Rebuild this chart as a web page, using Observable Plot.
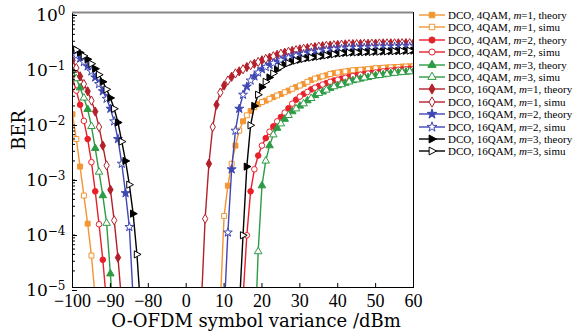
<!DOCTYPE html>
<html><head><meta charset="utf-8">
<script src="https://cdn.jsdelivr.net/npm/d3@7"></script>
<script src="https://cdn.jsdelivr.net/npm/@observablehq/plot@0.6"></script>
<style>
body{margin:0;background:#fff;}
#wrap{position:relative;width:585px;height:336px;overflow:hidden;}
#chart{position:absolute;left:0;top:0;}
.lrow{position:absolute;left:418px;height:12px;display:flex;align-items:center;font-family:"Liberation Serif",serif;font-size:11px;color:#000;white-space:nowrap;}
.lrow svg{display:block;margin-right:2px;}
</style></head><body>
<div id="wrap"><div id="chart"></div><div id="legend"></div></div>
<script>
// ---- tick values ----
const xTicks = [-100, -90, -80, 0, 10, 20, 30, 40, 50, 60];
const yTicks = [1, 1e-1, 1e-2, 1e-3, 1e-4, 1e-5];

// ---- series labels ----
const modLabels = ["DCO, 4QAM", "DCO, 4QAM", "DCO, 4QAM", "DCO, 16QAM", "DCO, 16QAM", "DCO, 16QAM"];
const mValues = [1, 2, 3, 1, 2, 3];
const kinds = ["theory", "simu"];

// ---- left branch (negative variance) x and BER ----
const xLeft4m1 = [-100, -99, -98, -97, -96, -95, -94];
const berLeft4m1 = [1.41e-2, 5.0e-3, 1.58e-3, 4.7e-4, 1.45e-4, 3.8e-5, 6.3e-6];
const xLeft4m2 = [-100, -99, -98, -97, -96, -95, -94, -93, -92, -91];
const berLeft4m2 = [6.3e-2, 3.8e-2, 2.1e-2, 1.07e-2, 5.0e-3, 1.9e-3, 5.6e-4, 1.41e-4, 3.2e-5, 5.0e-6];
const xLeft4m3 = [-100, -99, -98, -97, -96, -95, -94, -93, -92, -91, -90, -89];
const berLeft4m3 = [8.9e-2, 6.3e-2, 4.3e-2, 2.8e-2, 1.74e-2, 8.5e-3, 3.4e-3, 1.26e-3, 4.7e-4, 1.48e-4, 1.78e-5, 1.6e-6];
const xLeft16m1 = [-100, -99, -98, -97, -96, -95, -94, -93, -92, -91, -90, -89, -88, -87];
const berLeft16m1 = [0.135, 9.8e-2, 6.9e-2, 5.0e-2, 3.7e-2, 2.5e-2, 1.58e-2, 8.3e-3, 3.8e-3, 1.66e-3, 6.0e-4, 1.66e-4, 3.5e-5, 5.0e-6];
const xLeft16m2 = [-100, -99, -98, -97, -96, -95, -94, -93, -92, -91, -90, -89, -88, -87, -86, -85, -84];
const berLeft16m2 = [0.186, 0.166, 0.145, 0.126, 0.105, 8.5e-2, 6.6e-2, 5.0e-2, 3.7e-2, 2.7e-2, 1.78e-2, 1.05e-2, 5.0e-3, 1.78e-3, 5.2e-4, 1.26e-4, 6.3e-6];
const xLeft16m3 = [-100, -99, -98, -97, -96, -95, -94, -93, -92, -91, -90, -89, -88, -87, -86, -85, -84, -83, -82];
const berLeft16m3 = [0.229, 0.209, 0.186, 0.162, 0.141, 0.117, 9.5e-2, 7.4e-2, 5.5e-2, 4.0e-2, 2.8e-2, 1.78e-2, 1.0e-2, 4.5e-3, 2.0e-3, 7.4e-4, 2.2e-4, 4.0e-5, 4.0e-6];

// ---- right branch (positive variance), BER at 1 dB steps from the start value up to 60 dBm ----
const xStartRight4m1 = 9;
const berRight4m1 = [5.0e-6, 2.0e-4, 7.1e-4, 1.78e-3, 3.8e-3, 7.1e-3, 1.05e-2, 1.35e-2, 1.62e-2, 1.9e-2,
  2.15e-2, 2.35e-2, 2.5e-2, 2.7e-2, 2.9e-2, 3.1e-2, 3.3e-2, 3.55e-2, 3.8e-2, 4.1e-2,
  4.4e-2, 4.7e-2, 5.0e-2, 5.5e-2, 5.9e-2, 6.3e-2, 6.6e-2, 6.9e-2, 7.2e-2, 7.6e-2,
  7.9e-2, 8.1e-2, 8.3e-2, 8.5e-2, 8.7e-2, 8.9e-2, 9.0e-2, 9.1e-2, 9.2e-2, 9.3e-2,
  9.5e-2, 9.7e-2, 9.8e-2, 9.9e-2, 0.1, 0.101, 0.102, 0.102, 0.104, 0.104, 0.105, 0.105];
const xStartRight4m2 = 15;
const berRight4m2 = [6.3e-6, 8.9e-5, 5.6e-4, 1.41e-3, 2.5e-3, 3.8e-3, 5.2e-3, 6.8e-3, 8.5e-3, 1.05e-2,
  1.26e-2, 1.51e-2, 1.82e-2, 2.2e-2, 2.6e-2, 2.95e-2, 3.3e-2, 3.6e-2, 4.0e-2, 4.3e-2,
  4.6e-2, 4.9e-2, 5.2e-2, 5.5e-2, 5.8e-2, 6.0e-2, 6.3e-2, 6.5e-2, 6.8e-2, 7.0e-2,
  7.2e-2, 7.4e-2, 7.6e-2, 7.8e-2, 7.9e-2, 8.1e-2, 8.3e-2, 8.5e-2, 8.7e-2, 8.8e-2,
  8.9e-2, 9.1e-2, 9.2e-2, 9.3e-2, 9.4e-2, 9.5e-2];
const xStartRight4m3 = 18;
const berRight4m3 = [6.3e-7, 4.5e-5, 7.1e-4, 2.0e-3, 3.8e-3, 6.0e-3, 7.9e-3, 9.5e-3, 1.15e-2, 1.35e-2,
  1.58e-2, 1.78e-2, 2.0e-2, 2.2e-2, 2.5e-2, 2.75e-2, 3.1e-2, 3.4e-2, 3.6e-2, 3.9e-2,
  4.2e-2, 4.5e-2, 4.7e-2, 4.9e-2, 5.2e-2, 5.5e-2, 5.8e-2, 6.0e-2, 6.2e-2, 6.5e-2,
  6.6e-2, 6.9e-2, 7.1e-2, 7.2e-2, 7.4e-2, 7.6e-2, 7.8e-2, 7.9e-2, 8.1e-2, 8.2e-2,
  8.3e-2, 8.4e-2, 8.5e-2];
const xStartRight16m1 = 4;
const berRight16m1 = [5.0e-6, 1.78e-4, 1.78e-3, 8.3e-3, 2.1e-2, 3.5e-2, 4.7e-2, 5.8e-2, 6.8e-2, 7.8e-2,
  8.5e-2, 9.3e-2, 0.102, 0.11, 0.117, 0.126, 0.135, 0.143, 0.151, 0.16,
  0.17, 0.178, 0.186, 0.193, 0.2, 0.207, 0.214, 0.219, 0.224, 0.229,
  0.234, 0.24, 0.244, 0.248, 0.251, 0.254, 0.257, 0.26, 0.263, 0.265,
  0.266, 0.267, 0.268, 0.269, 0.27, 0.271, 0.272, 0.273, 0.274, 0.274,
  0.275, 0.275, 0.276, 0.276, 0.277, 0.277, 0.278];
const xStartRight16m2 = 10;
const berRight16m2 = [3.2e-6, 1.0e-4, 1.41e-3, 7.1e-3, 1.78e-2, 3.2e-2, 4.5e-2, 5.8e-2, 6.9e-2, 8.1e-2,
  9.3e-2, 0.102, 0.112, 0.12, 0.129, 0.136, 0.145, 0.151, 0.158, 0.164,
  0.17, 0.176, 0.182, 0.187, 0.192, 0.197, 0.202, 0.207, 0.21, 0.214,
  0.217, 0.22, 0.223, 0.225, 0.226, 0.227, 0.228, 0.229, 0.23, 0.231,
  0.232, 0.233, 0.234, 0.235, 0.236, 0.237, 0.238, 0.239, 0.239, 0.24, 0.24];
const xStartRight16m3 = 14;
const berRight16m3 = [4.0e-6, 8.9e-5, 1.58e-3, 8.9e-3, 2.0e-2, 3.2e-2, 4.4e-2, 5.5e-2, 6.6e-2, 7.8e-2,
  9.1e-2, 0.102, 0.112, 0.12, 0.127, 0.133, 0.138, 0.143, 0.148, 0.151,
  0.155, 0.158, 0.162, 0.166, 0.17, 0.174, 0.178, 0.181, 0.184, 0.186,
  0.187, 0.188, 0.189, 0.19, 0.191, 0.192, 0.193, 0.194, 0.195, 0.196,
  0.197, 0.198, 0.199, 0.2, 0.201, 0.202, 0.203];

// ---- styles ----
const colors = ["#F39533", "#E8202A", "#2E9B45", "#B3202A", "#3E47B3", "#000000"];
const triangleRight = {
  draw(ctx, size) {
    const r = Math.sqrt(size / 1.3);
    ctx.moveTo(r * 0.95, 0);
    ctx.lineTo(-r * 0.6, r * 0.82);
    ctx.lineTo(-r * 0.6, -r * 0.82);
    ctx.closePath();
  }
};
const symbols = [d3.symbolSquare, d3.symbolCircle, d3.symbolTriangle, d3.symbolDiamond, d3.symbolStar, triangleRight];

const lefts = [[xLeft4m1, berLeft4m1], [xLeft4m2, berLeft4m2], [xLeft4m3, berLeft4m3],
  [xLeft16m1, berLeft16m1], [xLeft16m2, berLeft16m2], [xLeft16m3, berLeft16m3]];
const rights = [[xStartRight4m1, berRight4m1], [xStartRight4m2, berRight4m2], [xStartRight4m3, berRight4m3],
  [xStartRight16m1, berRight16m1], [xStartRight16m2, berRight16m2], [xStartRight16m3, berRight16m3]];

const SERIF = "'DejaVu Serif', serif";
const TIMES = "'Liberation Serif', serif";
const minorTicks = [];
for (let k = -5; k < 0; k++) for (let m = 2; m <= 9; m++) minorTicks.push(m * Math.pow(10, k));

const marks = [];
colors.forEach((color, k) => {
  const rows = [];
  lefts[k][1].forEach((b, i) => rows.push({x: lefts[k][0][i], ber: b, side: "L", i}));
  rights[k][1].forEach((b, i) => rows.push({x: rights[k][0] + i, ber: b, side: "R", i}));
  marks.push(Plot.line(rows, {x: "x", y: "ber", z: "side", stroke: color, strokeWidth: 1.4, clip: true}));
  marks.push(Plot.dot(rows.filter(d => d.i % 2 === 0), {x: "x", y: "ber", symbol: symbols[k], r: 2.8, fill: color, stroke: color, strokeWidth: 1, clip: true}));
  marks.push(Plot.dot(rows.filter(d => d.i % 2 === 1), {x: "x", y: "ber", symbol: symbols[k], r: 2.8, fill: "white", stroke: color, strokeWidth: 1, clip: true}));
});

const W = 420, H = 336;
const plot = Plot.plot({
  width: W, height: H,
  marginLeft: 72, marginRight: 7, marginTop: 12, marginBottom: 49,
  style: {fontFamily: SERIF, fontSize: "17px", color: "#000", background: "transparent", overflow: "visible"},
  x: {type: "linear", domain: [-100, -80, 0, 60], range: [72, 147.8, 185.7, 413]},
  y: {type: "log", domain: [1e-5, 1], range: [287, 12]},
  marks: [
    ...marks,
    Plot.frame({stroke: "#000", strokeWidth: 1}),
    Plot.ruleY([1], {stroke: "#888", strokeWidth: 2}),
    Plot.axisX(xTicks, {tickSize: -4, tickPadding: 11, label: null, fontSize: 18, fontFamily: TIMES,
      tickFormat: d => d < 0 ? "\u2212" + Math.abs(d) : String(d)}),
    Plot.axisY(minorTicks, {tickSize: -3, tickPadding: 0, label: null, tickFormat: () => ""}),
    Plot.axisY(yTicks, {tickSize: -5, tickPadding: 12, label: null, fontSize: 17, dy: 3,
      tickFormat: d => "10^" + Math.round(Math.log10(d))}),
    Plot.text(["BER"], {frameAnchor: "left", rotate: -90, dx: -53, fontSize: 18, fontFamily: SERIF}),
    Plot.text(["O-OFDM symbol variance /dBm"], {frameAnchor: "bottom", dx: 13, dy: 39, fontSize: 18, fontFamily: SERIF})
  ]
});
// superscript exponents on y labels
plot.querySelectorAll("text").forEach(t => {
  const s = t.textContent;
  if (s.startsWith("10^")) {
    const e = s.slice(3).replace("-", "\u2212");
    t.textContent = "10";
    const ts = document.createElementNS("http://www.w3.org/2000/svg", "tspan");
    ts.setAttribute("dy", "-0.5em");
    ts.setAttribute("font-size", "12");
    ts.textContent = e;
    t.appendChild(ts);
  }
});
document.getElementById("chart").appendChild(plot);

// ---- legend ----
const legend = document.getElementById("legend");
let idx = 0;
colors.forEach((color, k) => {
  kinds.forEach(kind => {
    const row = document.createElement("div");
    row.className = "lrow";
    row.style.top = (15 + idx * 12.4 - 6) + "px";
    const sw = d3.create("svg").attr("width", 28).attr("height", 12);
    sw.append("line").attr("x1", 1).attr("x2", 27).attr("y1", 6).attr("y2", 6)
      .attr("stroke", color).attr("stroke-width", 1.4);
    sw.append("path").attr("transform", "translate(14,6)")
      .attr("d", d3.symbol(symbols[k], 30)())
      .attr("fill", kind === "theory" ? color : "white").attr("stroke", color).attr("stroke-width", 1);
    row.appendChild(sw.node());
    const span = document.createElement("span");
    span.innerHTML = `${modLabels[k]}, <i>m</i>=${mValues[k]}, ${kind}`;
    row.appendChild(span);
    legend.appendChild(row);
    idx++;
  });
});
</script>
</body></html>
